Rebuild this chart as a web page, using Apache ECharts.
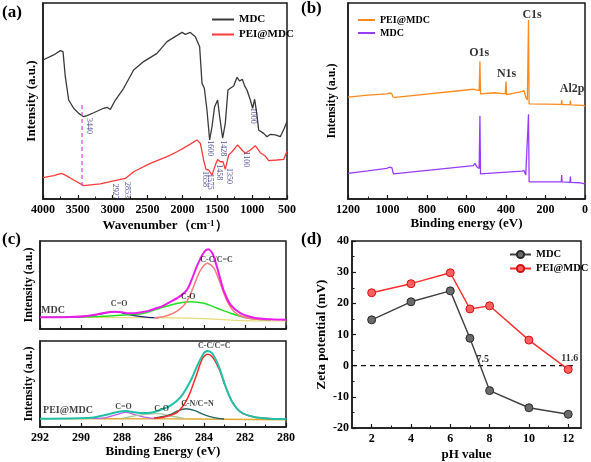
<!DOCTYPE html>
<html><head><meta charset="utf-8">
<script src="https://cdn.jsdelivr.net/npm/echarts@6/dist/echarts.min.js"></script>
<style>html,body{margin:0;padding:0;background:#fff}#c{width:591px;height:462px}</style>
</head><body><div id="c"></div>
<script>
// ---------- (a) FTIR ----------
const ftirMDC = [[4000,70.9],[3847,73.5],[3751,75.7],[3713,75.2],[3680,62.4],[3632,50.5],[3560,46.3],[3488,43.7],[3417,42.0],[3369,42.5],[3273,44.0],[3130,46.3],[3082,46.8],[3034,45.7],[2962,50.5],[2843,56.5],[2700,65.8],[2556,70.1],[2365,74.3],[2221,80.3],[2006,85.0],[1958,84.0],[1887,85.0],[1815,82.8],[1753,77.7],[1719,59.0],[1686,56.5],[1648,45.4],[1610,30.1],[1576,36.9],[1538,47.1],[1495,50.5],[1466,42.0],[1423,31.0],[1385,38.6],[1347,55.6],[1313,56.5],[1265,57.7],[1217,62.1],[1179,60.2],[1141,61.1],[1108,57.7],[1074,55.6],[1026,50.5],[993,46.3],[964,50.9],[931,42.9],[907,35.2],[835,33.5],[787,31.8],[739,33.0],[668,32.7],[596,31.8],[539,36.1],[500,39.5]];
const ftirPEI = [[4000,10.9],[3847,11.9],[3737,13.1],[3680,12.2],[3560,9.7],[3417,6.8],[3178,7.7],[2986,9.2],[2819,10.5],[2700,13.9],[2461,18.2],[2221,21.6],[2078,24.1],[1935,27.0],[1791,30.1],[1743,28.4],[1696,19.9],[1662,15.1],[1624,14.8],[1576,12.2],[1528,17.3],[1495,20.2],[1457,19.0],[1418,19.0],[1385,15.1],[1337,22.4],[1289,24.1],[1208,27.6],[1146,25.0],[1098,23.3],[1026,25.0],[955,27.2],[883,23.6],[811,21.9],[763,19.6],[644,19.9],[548,20.2],[500,24.5]];
const ftirGuide = [[3440,48],[3440,6.8]];
const ftirPeakText = ['3440','1600','1428','1000','1100','1658','1575','1458','1350','2927','2853'];
const ftirPeakAt = [[3345,37.2],[1610,25.9],[1418,25.9],[988,42.5],[1088,20.2],[1676,10.2],[1600,8.8],[1480,13.6],[1332,11.7],[2967,3.7],[2795,4.6]];

// ---------- (b) XPS survey ----------
const surveyPEI = [[1200,52.0],[1100,53.0],[1004,53.6],[990,54.0],[985,54.8],[979,53.9],[972,52.0],[960,51.9],[565,56.0],[557,57.0],[548,55.6],[536,55.3],[532,70.1],[529,53.6],[460,54.2],[404,53.6],[400,59.9],[397,53.3],[320,54.8],[309,55.3],[300,52.0],[292,50.5],[286,91.3],[283,48.5],[200,48.4],[120,48.3],[118,50.5],[116,48.2],[76,48.1],[74,50.2],[72,48.0],[10,47.8],[0,47.4]];
const surveyMDC = [[1200,13.1],[1100,14.3],[1004,15.6],[990,16.2],[982,17.0],[978,16.0],[970,12.8],[960,12.9],[565,17.0],[557,18.2],[548,16.5],[536,15.6],[532,42.5],[529,12.8],[320,14.2],[309,14.5],[300,12.2],[292,11.4],[286,43.2],[283,8.8],[120,8.7],[118,12.2],[116,8.7],[76,8.5],[74,11.4],[72,8.5],[30,8.3],[28,9.0],[26,8.0],[0,7.7]];
const surveyLabelText = ['O1s','N1s','C1s','Al2p'];
const surveyLabelAt = [[536,74.3],[397,63.8],[268,93.9],[65,56]];

// ---------- (c) C1s high resolution ----------
const c1sMDCEnvelope = [[292,12.9],[290.5,13.2],[289.7,14.3],[289.2,16.2],[288.8,18.0],[288.38,19.1],[288.0,18.6],[287.73,17.3],[287.4,17.4],[287.08,18.4],[286.7,20.0],[286.43,22.1],[286.0,25.5],[285.62,30.1],[285.13,36.8],[284.85,42.5],[284.64,52.2],[284.32,70.6],[284.0,84.6],[283.8,87.9],[283.59,83.5],[283.35,66.9],[283.18,53],[283.02,41.2],[282.7,26.5],[282.21,17.3],[281.56,12.5],[280.74,10.7],[280,10.3]];
const c1sMDCcc = [[286.43,12.5],[286.0,13.5],[285.62,16.2],[285.3,20],[284.97,26.5],[284.7,36],[284.48,48.5],[284.16,65.1],[283.83,72.4],[283.51,66.9],[283.18,48.5],[282.86,30.1],[282.53,19.1],[282.05,12.9],[281.39,10.7],[280.74,10.3]];
const c1sMDCco = [[292,12.9],[289.5,13.5],[288.87,14.0],[287.89,15.4],[287.24,16.2],[286.8,18.2],[286.43,21.0],[285.62,26.5],[284.97,29.4],[284.64,30.1],[284.0,28.3],[283.35,22.8],[282.7,17.3],[282.05,12.9],[281.39,10.7],[280.74,10.3]];
const c1sMDCcdo = [[290.5,13.0],[289.68,14.3],[288.87,17.3],[288.35,19.1],[287.73,16.2],[287.24,14.3],[286.76,12.9],[286.2,12.6]];
const c1sMDCbase = [[292,12.9],[288,12.5],[285.62,12.3],[284.0,11.4],[282.53,9.6],[280.74,8.8],[280,8.8]];
const c1sMDCText = ['C-C/C=C','C-O','C=O','MDC'];
const c1sMDCAt = [[283.39,76.1],[284.77,35.7],[288.14,27.2],[291.95,21.0]];

const c1sPEIEnvelope = [[292,9.7],[289.68,10.5],[289.2,12],[288.87,13.6],[288.22,17.4],[287.81,18.6],[287.4,17.2],[287.0,16.2],[286.6,16.7],[286.27,18.6],[285.62,25.2],[285.13,34.9],[284.64,54.3],[284.32,71.7],[284.0,86.0],[283.83,88.4],[283.59,85.3],[283.27,69.8],[282.94,46.5],[282.62,29.1],[282.21,17.4],[281.56,11.6],[280.74,9.7],[280,9.3]];
const c1sPEIcc = [[286.43,10.1],[285.95,11.6],[285.29,17.4],[284.81,32.9],[284.4,58.1],[284.08,79.5],[283.83,84.5],[283.59,81.4],[283.27,67.8],[282.94,46.5],[282.62,29.1],[282.21,17.4],[281.56,11.6],[280.74,9.7],[280,9.3]];
const c1sPEIcn = [[286.43,10.5],[285.9,12.5],[285.62,14.7],[285.29,18.6],[284.89,21.3],[284.48,19.4],[284.0,14.3],[283.51,10.9],[283.02,9.3]];
const c1sPEIco = [[288.0,10.0],[287.24,13.6],[286.27,15.5],[285.62,12.8],[284.97,10.1]];
const c1sPEIcdo = [[289.5,10.0],[288.87,10.5],[288.22,14.7],[287.81,17.1],[287.41,14.7],[286.92,11.6],[286.43,10.1]];
const c1sPEIbase = [[292,9.7],[286,9.5],[283,9.0],[280,8.5]];
const c1sPEIText = ['C-C/C=C','C=O','C-O','C-N/C=N','PEI@MDC'];
const c1sPEIAt = [[283.5,93.8],[287.93,23.3],[286.07,21.3],[284.32,27.1],[291.85,19.4]];

// ---------- (d) Zeta potential ----------
const phValues = [2,4,6,7,8,10,12];
const zetaMDC = [14.7,20.5,24.0,8.8,-8.0,-13.5,-15.6];
const zetaPEI = [23.4,26.3,29.8,18.2,19.2,8.2,-1.2];
const zeroLine = [[1,0],[12.24,0]];
const iepText = ['7.5','11.6'];
const iepAt = [[7.65,2.0],[12.08,2.4]];
const phMajor = [2,4,6,8,10,12];
const phMinor = [3,5,7,9,11];

// ---------- chart ----------
const FONT = 'Liberation Serif';
const AX = '#1a1a1a';
const chart = echarts.init(document.getElementById('c'), null, {renderer:'canvas'});
const pairs = (a,b) => a.map((x,i)=>[x,b[i]]);
const labelData = (t,a) => t.map((n,i)=>({name:n, value:a[i]}));
const strip = n => n.replace(/^.\|/, '');
const plain = v => String(v);

function xAxisBase(o){
  return Object.assign({
    type:'value', splitLine:{show:false},
    axisLine:{show:true, onZero:false, lineStyle:{color:AX, width:1.5}},
    axisTick:{show:true, inside:true, length:4, lineStyle:{color:AX, width:1.2}},
    minorTick:{show:true, splitNumber:2, length:2.5, lineStyle:{color:AX, width:1}},
    axisLabel:{color:'#000', fontFamily:FONT, fontWeight:'bold', fontSize:12, margin:5, formatter:plain},
    nameLocation:'middle',
    nameTextStyle:{color:'#000', fontFamily:FONT, fontWeight:'bold', fontSize:13}
  }, o);
}
function yAxisBlank(o){
  return Object.assign({
    type:'value', splitLine:{show:false},
    axisLine:{show:true, onZero:false, lineStyle:{color:AX, width:1.5}},
    axisTick:{show:false}, axisLabel:{show:false},
    name:'Intensity (a.u.)', nameLocation:'middle',
    nameTextStyle:{color:'#000', fontFamily:FONT, fontWeight:'bold', fontSize:12}
  }, o);
}
function lineS(name, data, xi, color, width, extra){
  return Object.assign({
    type:'line', name:name, data:data, xAxisIndex:xi, yAxisIndex:xi<5?xi:4,
    symbol:'none', lineStyle:{color:color, width:width}, itemStyle:{color:color},
    silent:true, z:3
  }, extra||{});
}
function textS(data, xi, yi, fontSize, color, extra){
  return {
    type:'scatter', data:data, xAxisIndex:xi, yAxisIndex:yi, symbolSize:0, silent:true, z:10,
    label:Object.assign({show:true, position:'inside', formatter:p=>p.name, color:color,
      fontFamily:FONT, fontWeight:'bold', fontSize:fontSize}, extra||{})
  };
}
const gridStyle = {show:true, borderColor:AX, borderWidth:1.5, backgroundColor:'transparent'};

const option = {
  animation:false,
  textStyle:{fontFamily:FONT},
  title:[
    {text:'(a)', left:2, top:4},
    {text:'(b)', left:301, top:0},
    {text:'(c)', left:2, top:231},
    {text:'(d)', left:301, top:231}
  ].map(t=>Object.assign(t,{textStyle:{fontFamily:FONT, fontWeight:'bold', fontSize:17, color:'#000'}, padding:0})),
  grid:[
    Object.assign({left:43, top:3, width:244, height:196}, gridStyle),
    Object.assign({left:348, top:3, width:237, height:196}, gridStyle),
    Object.assign({left:40, top:241, width:246, height:88}, gridStyle),
    Object.assign({left:40, top:341, width:246, height:86}, gridStyle),
    Object.assign({left:352, top:241, width:229, height:187}, gridStyle)
  ],
  legend:[
    {data:['a|MDC','a|PEI@MDC'], left:206, top:9, orient:'vertical', itemWidth:22, itemHeight:10, itemGap:4, itemStyle:{opacity:0},
      formatter:strip, textStyle:{fontFamily:FONT, fontWeight:'bold', fontSize:11, color:'#000'}},
    {data:['b|PEI@MDC','b|MDC'], left:352, top:10, orient:'vertical', itemWidth:17, itemHeight:10, itemGap:3, itemStyle:{opacity:0},
      formatter:strip, textStyle:{fontFamily:FONT, fontWeight:'bold', fontSize:10, color:'#000'}},
    {data:['d|MDC','d|PEI@MDC'], left:504, top:244, orient:'vertical', itemWidth:21, itemHeight:9, itemGap:3,
      formatter:strip, textStyle:{fontFamily:FONT, fontWeight:'bold', fontSize:10.5, color:'#000'}}
  ],
  xAxis:[
    xAxisBase({gridIndex:0, min:500, max:4000, interval:500, inverse:true, nameGap:20,
      name:'Wavenumber（cm{s|-1}）',
      nameTextStyle:{color:'#000', fontFamily:FONT, fontWeight:'bold', fontSize:13,
        rich:{s:{fontFamily:FONT, fontWeight:'bold', fontSize:9, verticalAlign:'top', color:'#000'}}}}),
    xAxisBase({gridIndex:1, min:0, max:1200, interval:200, inverse:true, nameGap:18, name:'Binding energy (eV)'}),
    xAxisBase({gridIndex:2, min:280, max:292, interval:2, inverse:true, axisLabel:{show:false}}),
    xAxisBase({gridIndex:3, min:280, max:292, interval:2, inverse:true, nameGap:18, name:'Binding Energy (eV)'}),
    xAxisBase({gridIndex:4, min:1, max:12.65, name:'pH value', nameGap:20, minorTick:{show:false},
      axisLabel:{customValues:phMajor, color:'#000', fontFamily:FONT, fontWeight:'bold', fontSize:12, margin:5, formatter:plain},
      axisTick:{show:true, inside:true, length:4, customValues:phMajor, lineStyle:{color:AX, width:1.2}}}),
    xAxisBase({gridIndex:4, min:1, max:12.65, position:'bottom', minorTick:{show:false},
      axisLine:{show:false, onZero:false}, axisLabel:{show:false},
      axisTick:{show:true, inside:true, length:2.5, customValues:phMinor, lineStyle:{color:AX, width:1}}})
  ],
  yAxis:[
    yAxisBlank({gridIndex:0, min:0, max:100, nameGap:5, nameTextStyle:{color:'#000', fontFamily:FONT, fontWeight:'bold', fontSize:13}}),
    yAxisBlank({gridIndex:1, min:0, max:100, nameGap:10}),
    yAxisBlank({gridIndex:2, min:0, max:97, nameGap:5}),
    yAxisBlank({gridIndex:3, min:0, max:100, nameGap:5}),
    {type:'value', gridIndex:4, min:-20, max:40, interval:10, splitLine:{show:false},
      axisLine:{show:true, onZero:false, lineStyle:{color:AX, width:1.5}},
      axisTick:{show:true, inside:true, length:4, lineStyle:{color:AX, width:1.2}},
      minorTick:{show:true, splitNumber:2, length:2.5, lineStyle:{color:AX, width:1}},
      axisLabel:{color:'#000', fontFamily:FONT, fontWeight:'bold', fontSize:12, margin:3, formatter:plain},
      name:'Zeta potential (mV)', nameLocation:'middle', nameGap:24,
      nameTextStyle:{color:'#000', fontFamily:FONT, fontWeight:'bold', fontSize:13}}
  ],
  series:[
    // (a)
    lineS('a|MDC', ftirMDC, 0, '#3a3a3a', 1.3),
    lineS('a|PEI@MDC', ftirPEI, 0, '#ff3a3a', 1.3),
    lineS('guide', ftirGuide, 0, '#e040e0', 1.2, {lineStyle:{color:'#e040e0', width:1.2, type:[4,3]}}),
    textS(labelData(ftirPeakText, ftirPeakAt), 0, 0, 8, '#1c1c78', {rotate:-90, fontWeight:'normal'}),
    // (b)
    lineS('b|PEI@MDC', surveyPEI, 1, '#ff8a1e', 1.3),
    lineS('b|MDC', surveyMDC, 1, '#9a3cff', 1.3),
    textS(labelData(surveyLabelText, surveyLabelAt), 1, 1, 12, '#000'),
    // (c) top
    lineS('c1base', c1sMDCbase, 2, '#e6dc7a', 1.2, {smooth:0.3}),
    lineS('c1cdo', c1sMDCcdo, 2, '#1d1d7a', 1.3, {smooth:0.3}),
    lineS('c1co', c1sMDCco, 2, '#22e022', 1.5, {smooth:0.3}),
    lineS('c1cc', c1sMDCcc, 2, '#ff7a7a', 1.5, {smooth:0.3}),
    lineS('c1env', c1sMDCEnvelope, 2, '#ec1cec', 2, {smooth:0.3}),
    textS(labelData(c1sMDCText.slice(0,3), c1sMDCAt.slice(0,3)), 2, 2, 8, '#111'),
    textS(labelData(c1sMDCText.slice(3), c1sMDCAt.slice(3)), 2, 2, 10, '#111', {position:'right', distance:0}),
    // (c) bottom
    lineS('c2base', c1sPEIbase, 3, '#e0a830', 1.4, {smooth:0.3}),
    lineS('c2cdo', c1sPEIcdo, 3, '#c060f0', 1.3, {smooth:0.3}),
    lineS('c2co', c1sPEIco, 3, '#a8c8a0', 1.3, {smooth:0.3}),
    lineS('c2cn', c1sPEIcn, 3, '#236866', 1.4, {smooth:0.3}),
    lineS('c2cc', c1sPEIcc, 3, '#ff2a2a', 1.5, {smooth:0.3}),
    lineS('c2env', c1sPEIEnvelope, 3, '#22c0a6', 2, {smooth:0.3}),
    textS(labelData(c1sPEIText.slice(0,4), c1sPEIAt.slice(0,4)), 3, 3, 8, '#111'),
    textS(labelData(c1sPEIText.slice(4), c1sPEIAt.slice(4)), 3, 3, 10, '#111', {position:'right', distance:0}),
    // (d)
    {type:'line', name:'zero', data:zeroLine, xAxisIndex:4, yAxisIndex:4, symbol:'none', silent:true,
      lineStyle:{color:'#111', width:1.3, type:[5,4]}, z:2},
    {type:'line', name:'d|MDC', data:pairs(phValues, zetaMDC), xAxisIndex:4, yAxisIndex:4,
      symbol:'circle', symbolSize:8, lineStyle:{color:'#404040', width:1.4},
      itemStyle:{color:'#6a6a6a', borderColor:'#2a2a2a', borderWidth:1}, silent:true, z:4},
    {type:'line', name:'d|PEI@MDC', data:pairs(phValues, zetaPEI), xAxisIndex:4, yAxisIndex:4,
      symbol:'circle', symbolSize:8, lineStyle:{color:'#ff2d2d', width:1.4},
      itemStyle:{color:'#ff6060', borderColor:'#d41010', borderWidth:1}, silent:true, z:4},
    textS(labelData(iepText, iepAt), 4, 4, 10, '#000')
  ]
};
chart.setOption(option);
</script>
</body></html>
